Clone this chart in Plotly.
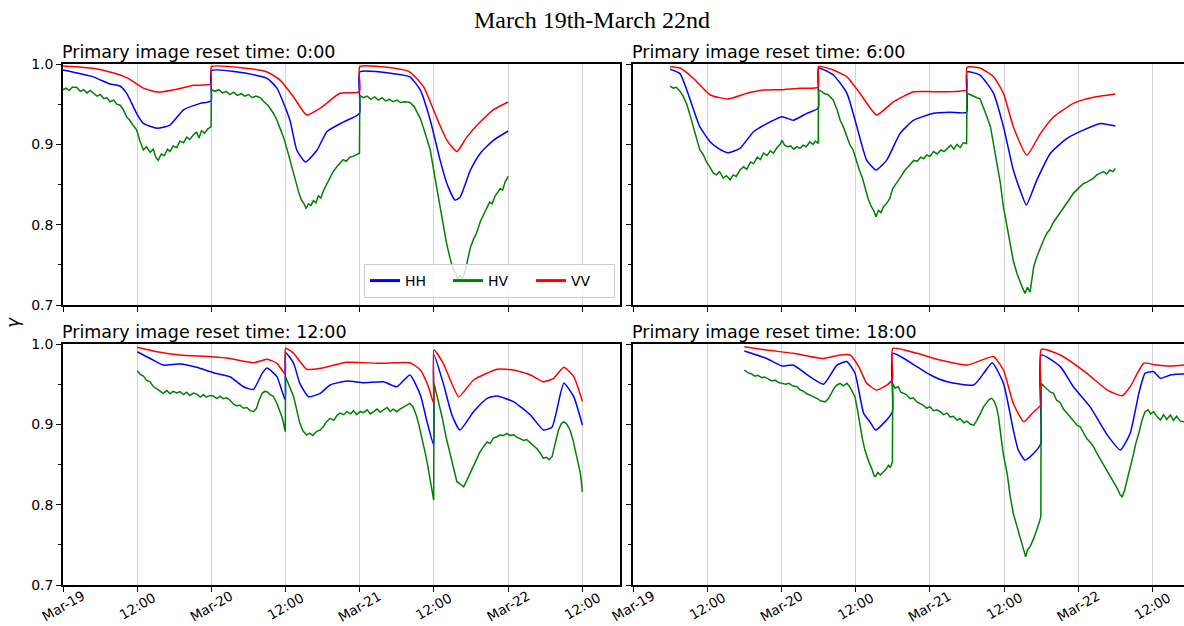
import pandas as pd
import plotly.graph_objects as go

BASE = pd.Timestamp("2019-03-19 00:00")

# ---------------- data (hours since Mar-19 00:00, gamma values) ----------------
# Panel 1: reset time 0:00
p1_hh_h = [0, 4.9, 7.6, 9.2, 10.3, 11.9, 13.0, 15.2, 17.3, 19.5, 22.2, 23.95, 24.0, 29.2, 33.0, 34.6, 36.7, 37.8, 39.2, 41.1, 42.7, 45.4, 47.95, 48.0, 53.4, 56.1, 57.8, 59.4, 61.0, 62.1, 63.4, 64.2, 65.9, 67.5, 69.6, 72]
p1_hh = [0.9925, 0.984, 0.975, 0.9726, 0.9635, 0.9386, 0.926, 0.920, 0.924, 0.943, 0.951, 0.954, 0.9917, 0.989, 0.982, 0.970, 0.930, 0.893, 0.878, 0.893, 0.916, 0.928, 0.9386, 0.990, 0.988, 0.984, 0.9676, 0.930, 0.880, 0.851, 0.8306, 0.834, 0.868, 0.889, 0.905, 0.9166]
p1_hv_h = [0, 0.5, 1.0, 1.5, 2.2, 2.8, 3.3, 3.9, 4.4, 4.9, 5.5, 6.0, 6.6, 7.1, 7.6, 8.2, 8.7, 9.2, 9.7, 10.3, 10.8, 11.3, 11.9, 12.4, 13.0, 13.5, 14.1, 14.6, 15.0, 15.4, 15.9, 16.4, 16.9, 17.3, 17.8, 18.4, 18.9, 19.5, 20.0, 20.5, 21.1, 21.6, 22.0, 22.4, 22.9, 23.4, 23.95,
           24.0, 24.6, 25.2, 25.8, 26.4, 27.0, 27.6, 28.2, 28.8, 29.4, 30.0, 30.6, 31.2, 31.9, 32.5, 33.2, 34.0, 34.6, 35.2, 35.7, 36.2, 36.7, 37.2, 37.8, 38.2, 38.6, 39.0, 39.3, 39.7, 40.1, 40.5, 40.9, 41.3, 41.7, 42.1, 42.7, 43.2, 43.7, 44.3, 44.8, 45.3, 45.8, 46.4, 46.9, 47.4, 47.95,
           48.0, 48.6, 49.2, 49.8, 50.4, 51.0, 51.6, 52.2, 52.8, 53.4, 54.0, 54.6, 55.3, 56.1, 56.8, 57.4, 57.8, 58.4, 58.9, 59.4, 59.9, 60.5, 61.0, 61.5, 62.0, 62.6, 63.1, 63.5, 63.8, 64.2, 64.6, 65.0, 65.4, 65.9, 66.4, 66.9, 67.5, 68.0, 68.5, 69.0, 69.4, 69.9, 70.3, 70.7, 71.1, 71.5, 72.0]
p1_hv = [0.968, 0.970, 0.967, 0.971, 0.971, 0.966, 0.968, 0.964, 0.967, 0.964, 0.960, 0.962, 0.957, 0.958, 0.953, 0.955, 0.950, 0.949, 0.944, 0.934, 0.930, 0.924, 0.918, 0.905, 0.893, 0.897, 0.890, 0.894, 0.884, 0.880, 0.888, 0.886, 0.894, 0.891, 0.898, 0.896, 0.904, 0.902, 0.909, 0.906, 0.912, 0.915, 0.908, 0.917, 0.914, 0.919, 0.922,
         0.968, 0.966, 0.968, 0.964, 0.966, 0.962, 0.965, 0.961, 0.963, 0.960, 0.962, 0.958, 0.960, 0.958, 0.953, 0.948, 0.939, 0.930, 0.918, 0.908, 0.895, 0.880, 0.865, 0.847, 0.838, 0.830, 0.826, 0.820, 0.826, 0.824, 0.830, 0.827, 0.836, 0.833, 0.842, 0.851, 0.858, 0.866, 0.872, 0.876, 0.881, 0.879, 0.884, 0.885, 0.887, 0.889,
         0.961, 0.958, 0.960, 0.956, 0.959, 0.955, 0.958, 0.954, 0.956, 0.953, 0.955, 0.952, 0.953, 0.952, 0.947, 0.938, 0.932, 0.918, 0.905, 0.893, 0.870, 0.843, 0.820, 0.797, 0.778, 0.758, 0.745, 0.740, 0.732, 0.737, 0.733, 0.741, 0.755, 0.772, 0.782, 0.790, 0.804, 0.812, 0.822, 0.828, 0.826, 0.836, 0.840, 0.845, 0.843, 0.853, 0.860]
p1_vv_h = [0, 4.9, 7.6, 10.3, 13.0, 15.4, 18.4, 21.1, 23.95, 24.0, 29.2, 33.0, 35.1, 37.3, 39.4, 41.6, 44.8, 47.95, 48.0, 53.4, 56.1, 58.3, 60.5, 62.1, 63.7, 65.3, 67.5, 69.6, 72]
p1_vv = [0.9975, 0.9946, 0.990, 0.983, 0.970, 0.965, 0.9685, 0.9735, 0.975, 0.9967, 0.995, 0.990, 0.980, 0.959, 0.9365, 0.945, 0.9635, 0.9655, 0.9967, 0.995, 0.990, 0.9718, 0.932, 0.905, 0.891, 0.909, 0.928, 0.943, 0.9527]

# Panel 2: reset time 6:00
p2_hh_h = [6, 7.6, 8.7, 9.8, 10.8, 12.5, 13.8, 15.4, 17.3, 19.5, 22.2, 24.1, 25.9, 28.1, 29.95, 30.0, 32.4, 34.6, 36.2, 37.8, 39.3, 41.0, 43.2, 45.4, 48.6, 51.3, 53.95, 54.0, 56.1, 58.3, 59.9, 61.5, 62.6, 63.6, 65.3, 67.5, 70.2, 72.9, 75.6, 78]
p2_hh = [0.9934, 0.988, 0.9676, 0.943, 0.922, 0.903, 0.895, 0.8896, 0.895, 0.9157, 0.928, 0.9344, 0.930, 0.9386, 0.945, 0.9946, 0.9863, 0.9635, 0.922, 0.880, 0.868, 0.880, 0.9137, 0.930, 0.9386, 0.940, 0.940, 0.990, 0.9863, 0.9635, 0.922, 0.868, 0.843, 0.8244, 0.8555, 0.889, 0.9075, 0.918, 0.926, 0.9228]
p2_hv_h = [6.0, 6.5, 7.0, 7.6, 8.1, 8.7, 9.2, 9.8, 10.3, 10.8, 11.3, 11.9, 12.4, 13.0, 13.5, 14.0, 14.6, 15.1, 15.7, 16.2, 16.7, 17.3, 17.9, 18.4, 19.0, 19.5, 20.1, 20.6, 21.1, 21.7, 22.2, 22.7, 23.3, 23.8, 24.1, 24.5, 25.0, 25.5, 26.0, 26.5, 27.0, 27.5, 28.0, 28.6, 29.1, 29.5, 29.95,
           30.0, 30.5, 31.0, 31.5, 32.0, 32.4, 33.0, 33.5, 34.0, 34.6, 35.1, 35.6, 36.1, 36.6, 37.1, 37.6, 38.0, 38.5, 38.9, 39.3, 39.7, 40.1, 40.5, 41.0, 41.5, 42.0, 42.5, 43.0, 43.5, 44.0, 44.5, 45.0, 45.4, 46.0, 46.5, 47.0, 47.5, 48.0, 48.6, 49.2, 49.8, 50.3, 50.8, 51.4, 51.9, 52.4, 52.9, 53.4, 53.95,
           54.0, 54.5, 55.0, 55.6, 56.1, 56.6, 57.2, 57.8, 58.3, 58.8, 59.4, 59.9, 60.5, 61.0, 61.5, 62.1, 62.6, 63.0, 63.4, 63.8, 64.2, 64.8, 65.3, 65.9, 66.4, 66.9, 67.4, 68.0, 68.6, 69.1, 69.6, 70.1, 70.6, 71.2, 71.7, 72.3, 72.8, 73.4, 73.9, 74.5, 75.0, 75.6, 76.1, 76.6, 77.1, 77.6, 78.0]
p2_hv = [0.9726, 0.970, 0.971, 0.966, 0.960, 0.950, 0.937, 0.920, 0.905, 0.893, 0.888, 0.878, 0.872, 0.864, 0.862, 0.866, 0.858, 0.861, 0.856, 0.862, 0.860, 0.868, 0.872, 0.869, 0.878, 0.876, 0.884, 0.881, 0.889, 0.886, 0.892, 0.889, 0.896, 0.900, 0.905, 0.899, 0.897, 0.898, 0.894, 0.897, 0.895, 0.899, 0.897, 0.903, 0.900, 0.904, 0.901,
         0.9676, 0.966, 0.963, 0.962, 0.958, 0.955, 0.943, 0.930, 0.922, 0.910, 0.899, 0.893, 0.880, 0.868, 0.858, 0.843, 0.833, 0.823, 0.818, 0.810, 0.818, 0.815, 0.822, 0.8265, 0.832, 0.845, 0.850, 0.856, 0.862, 0.868, 0.872, 0.876, 0.880, 0.879, 0.884, 0.882, 0.8867, 0.885, 0.891, 0.888, 0.893, 0.891, 0.895, 0.899, 0.894, 0.900, 0.896, 0.902, 0.901,
         0.9635, 0.962, 0.960, 0.958, 0.957, 0.948, 0.935, 0.922, 0.900, 0.880, 0.852, 0.822, 0.796, 0.7725, 0.755, 0.739, 0.728, 0.721, 0.7145, 0.722, 0.716, 0.7476, 0.760, 0.772, 0.781, 0.789, 0.794, 0.803, 0.810, 0.815, 0.822, 0.827, 0.832, 0.839, 0.843, 0.848, 0.851, 0.853, 0.8555, 0.858, 0.862, 0.864, 0.866, 0.863, 0.868, 0.866, 0.870]
p2_vv_h = [6, 7.6, 9.8, 12.5, 15.4, 18.4, 21.1, 24.3, 27.0, 29.95, 30.0, 32.4, 34.6, 36.7, 39.4, 42.1, 45.4, 48.6, 53.95, 54.0, 56.1, 58.3, 59.9, 61.5, 63.7, 65.9, 68.0, 71.2, 74.5, 78]
p2_vv = [0.9967, 0.995, 0.982, 0.9614, 0.9564, 0.9635, 0.9676, 0.968, 0.9697, 0.971, 0.9967, 0.9925, 0.984, 0.9635, 0.9365, 0.953, 0.9655, 0.9655, 0.968, 0.9958, 0.995, 0.984, 0.9635, 0.922, 0.8867, 0.9137, 0.934, 0.951, 0.9585, 0.9626]

# Panel 3: reset time 12:00
p3_hh_h = [12, 14.1, 16.2, 18.9, 21.6, 24.3, 27.0, 29.2, 30.8, 32.2, 33.0, 34.6, 35.95, 36.0, 37.3, 38.3, 39.7, 41.6, 43.2, 45.9, 48.6, 51.8, 54.0, 56.1, 57.8, 58.8, 59.95, 60.0, 61.5, 62.9, 64.2, 66.4, 68.6, 70.2, 72.9, 75.6, 77.7, 79.1, 81.0, 82.6, 84]
p3_hh = [0.9904, 0.982, 0.9738, 0.975, 0.971, 0.9643, 0.9593, 0.9468, 0.9435, 0.9635, 0.970, 0.9593, 0.930, 0.9892, 0.976, 0.951, 0.9344, 0.9386, 0.949, 0.9539, 0.9518, 0.953, 0.9468, 0.9614, 0.9365, 0.9054, 0.8742, 0.9863, 0.951, 0.9116, 0.893, 0.9157, 0.9324, 0.9352, 0.928, 0.9116, 0.893, 0.8968, 0.951, 0.9344, 0.899]
p3_hv_h = [12.0, 12.5, 13.0, 13.5, 14.1, 14.6, 15.2, 15.7, 16.2, 16.8, 17.3, 17.8, 18.4, 18.9, 19.5, 20.0, 20.5, 21.1, 21.6, 22.2, 22.7, 23.2, 23.8, 24.3, 24.9, 25.4, 25.9, 26.5, 27.0, 27.6, 28.1, 28.6, 29.2, 29.7, 30.3, 30.8, 31.3, 31.7, 32.2, 32.6, 33.0, 33.5, 34.0, 34.6, 35.0, 35.4, 35.7, 35.95,
           36.0, 36.4, 36.8, 37.3, 37.8, 38.3, 38.8, 39.4, 39.9, 40.4, 41.0, 41.6, 42.1, 42.6, 43.2, 43.8, 44.3, 44.8, 45.4, 45.9, 46.5, 47.0, 47.5, 48.1, 48.6, 49.2, 49.7, 50.2, 50.8, 51.3, 51.8, 52.4, 52.9, 53.4, 54.0, 54.5, 55.0, 55.6, 56.1, 56.6, 57.1, 57.5, 58.0, 58.6, 59.0, 59.4, 59.7, 59.95,
           60.0, 60.6, 61.3, 61.9, 62.6, 63.1, 63.7, 64.2, 64.8, 65.3, 65.8, 66.4, 66.9, 67.4, 68.0, 68.6, 69.1, 69.6, 70.2, 70.7, 71.2, 71.8, 72.3, 72.9, 73.4, 73.9, 74.5, 75.0, 75.6, 76.1, 76.6, 77.2, 77.7, 78.2, 78.6, 79.1, 79.6, 80.1, 80.6, 81.0, 81.5, 82.0, 82.5, 83.0, 83.4, 83.7, 84.0]
p3_hv = [0.9668, 0.962, 0.960, 0.955, 0.953, 0.947, 0.944, 0.941, 0.9386, 0.942, 0.938, 0.941, 0.939, 0.9406, 0.937, 0.940, 0.936, 0.939, 0.9377, 0.934, 0.937, 0.934, 0.936, 0.9352, 0.932, 0.935, 0.932, 0.933, 0.930, 0.925, 0.923, 0.924, 0.920, 0.921, 0.917, 0.9157, 0.920, 0.930, 0.9386, 0.941, 0.9406, 0.937, 0.935, 0.926, 0.918, 0.9095, 0.900, 0.8908,
         0.9593, 0.952, 0.944, 0.9344, 0.918, 0.9012, 0.892, 0.8867, 0.889, 0.886, 0.891, 0.893, 0.897, 0.903, 0.9075, 0.905, 0.911, 0.914, 0.912, 0.9157, 0.913, 0.917, 0.912, 0.916, 0.9145, 0.918, 0.913, 0.916, 0.919, 0.915, 0.9178, 0.921, 0.916, 0.919, 0.9157, 0.919, 0.921, 0.924, 0.926, 0.922, 0.912, 0.9012, 0.885, 0.8639, 0.848, 0.8306, 0.818, 0.8057,
         0.951, 0.932, 0.9095, 0.886, 0.8639, 0.845, 0.8286, 0.826, 0.8223, 0.830, 0.838, 0.8472, 0.856, 0.865, 0.872, 0.878, 0.876, 0.883, 0.8846, 0.887, 0.886, 0.8888, 0.886, 0.887, 0.884, 0.8826, 0.880, 0.881, 0.877, 0.8742, 0.870, 0.864, 0.8577, 0.859, 0.856, 0.8597, 0.875, 0.892, 0.901, 0.9032, 0.900, 0.893, 0.880, 0.862, 0.8472, 0.838, 0.816]
p3_vv_h = [12, 15.2, 18.9, 24.1, 27.0, 30.8, 33.0, 34.6, 35.95, 36.0, 37.3, 39.4, 41.6, 45.9, 51.3, 56.1, 57.8, 59.1, 59.95, 60.0, 61.5, 64.0, 66.4, 70.2, 72.9, 75.6, 77.7, 79.3, 81.0, 82.6, 84]
p3_vv = [0.9959, 0.9904, 0.9863, 0.9842, 0.982, 0.9767, 0.981, 0.976, 0.9626, 0.9946, 0.9884, 0.9685, 0.9697, 0.9772, 0.976, 0.9767, 0.9676, 0.9468, 0.926, 0.9925, 0.976, 0.9344, 0.9552, 0.9685, 0.9676, 0.9614, 0.953, 0.957, 0.971, 0.9593, 0.9286]

# Panel 4: reset time 18:00
p4_hh_h = [18, 21.6, 24.1, 25.9, 28.6, 30.8, 33.0, 34.6, 35.9, 37.3, 38.3, 39.2, 40.5, 41.95, 42.0, 45.9, 48.1, 50.8, 55.1, 56.7, 58.1, 59.9, 61.5, 62.3, 63.4, 64.8, 65.95, 66.0, 69.1, 71.2, 73.9, 76.7, 78.8, 80.4, 81.8, 82.8, 84.2, 85.3, 86.9, 89.2, 90]
p4_hh = [0.9913, 0.982, 0.9726, 0.9738, 0.9593, 0.950, 0.9738, 0.978, 0.9635, 0.9137, 0.9032, 0.893, 0.9012, 0.9157, 0.9884, 0.9718, 0.9614, 0.953, 0.949, 0.9635, 0.9767, 0.951, 0.893, 0.868, 0.8555, 0.8639, 0.8763, 0.9863, 0.9718, 0.9468, 0.922, 0.8867, 0.868, 0.8888, 0.9386, 0.9635, 0.9655, 0.9573, 0.9614, 0.9625, 0.962]
p4_hv_h = [18.0, 18.6, 19.1, 19.7, 20.2, 20.8, 21.3, 21.9, 22.4, 23.0, 23.5, 24.1, 24.7, 25.2, 25.8, 26.5, 27.0, 27.6, 28.1, 28.7, 29.2, 29.8, 30.4, 31.1, 31.6, 32.1, 32.6, 33.0, 33.5, 34.0, 34.6, 35.1, 35.5, 35.9, 36.3, 36.7, 37.1, 37.5, 37.9, 38.2, 38.6, 39.0, 39.2, 39.6, 40.0, 40.5, 40.9, 41.3, 41.6, 41.95,
           42.0, 42.4, 42.9, 43.3, 43.7, 44.2, 44.8, 45.3, 45.9, 46.4, 46.9, 47.5, 48.0, 48.6, 49.1, 49.7, 50.2, 50.8, 51.3, 51.8, 52.4, 52.9, 53.5, 54.0, 54.6, 55.1, 55.6, 56.2, 56.7, 57.2, 57.6, 58.0, 58.4, 58.8, 59.1, 59.5, 59.9, 60.5, 61.0, 61.5, 62.1, 62.6, 63.0, 63.3, 63.5, 63.8, 64.2, 64.8, 65.3, 65.7, 65.95,
           66.0, 66.5, 67.0, 67.5, 68.0, 68.5, 69.1, 69.6, 70.2, 70.7, 71.2, 71.8, 72.3, 72.9, 73.4, 73.9, 74.5, 75.0, 75.6, 76.1, 76.7, 77.2, 77.8, 78.3, 78.8, 79.1, 79.5, 80.0, 80.4, 80.9, 81.3, 81.8, 82.3, 82.8, 83.3, 83.7, 84.2, 84.7, 85.3, 85.8, 86.3, 86.9, 87.4, 87.9, 88.5, 89.2, 90.0]
p4_hv = [0.9676, 0.964, 0.963, 0.960, 0.961, 0.958, 0.959, 0.956, 0.954, 0.955, 0.952, 0.951, 0.950, 0.951, 0.948, 0.9468, 0.943, 0.941, 0.938, 0.936, 0.9344, 0.932, 0.929, 0.928, 0.932, 0.940, 0.946, 0.949, 0.951, 0.948, 0.951, 0.946, 0.940, 0.9344, 0.918, 0.897, 0.882, 0.868, 0.858, 0.852, 0.8452, 0.836, 0.8348, 0.840, 0.837, 0.841, 0.844, 0.849, 0.846, 0.8534,
         0.951, 0.945, 0.947, 0.940, 0.9386, 0.937, 0.932, 0.933, 0.928, 0.926, 0.924, 0.920, 0.922, 0.917, 0.918, 0.9157, 0.912, 0.914, 0.909, 0.910, 0.9054, 0.907, 0.902, 0.904, 0.900, 0.899, 0.905, 0.914, 0.922, 0.927, 0.931, 0.9324, 0.929, 0.921, 0.9095, 0.885, 0.862, 0.839, 0.810, 0.789, 0.772, 0.760, 0.746, 0.738, 0.735, 0.744, 0.7476, 0.758, 0.768, 0.778, 0.785,
         0.951, 0.947, 0.944, 0.940, 0.9386, 0.930, 0.927, 0.919, 0.9137, 0.909, 0.904, 0.899, 0.897, 0.888, 0.882, 0.878, 0.872, 0.864, 0.856, 0.850, 0.843, 0.836, 0.828, 0.8203, 0.812, 0.810, 0.818, 0.833, 0.8472, 0.862, 0.876, 0.8888, 0.905, 0.9157, 0.918, 0.913, 0.9157, 0.910, 0.9054, 0.912, 0.906, 0.9116, 0.905, 0.910, 0.904, 0.9032, 0.900]
p4_vv_h = [18, 21.6, 25.9, 30.8, 33.5, 35.1, 36.5, 37.8, 39.4, 41.1, 41.95, 42.0, 45.9, 49.7, 54.0, 58.3, 59.9, 61.5, 63.2, 64.8, 65.95, 66.0, 69.1, 73.4, 76.7, 79.1, 80.4, 82.6, 84.7, 86.9, 89.2, 90]
p4_vv = [0.9967, 0.9925, 0.9884, 0.982, 0.9863, 0.9863, 0.9718, 0.951, 0.9427, 0.949, 0.956, 0.9946, 0.9884, 0.980, 0.9738, 0.9842, 0.9676, 0.926, 0.9032, 0.9157, 0.924, 0.9934, 0.9863, 0.9635, 0.9427, 0.9357, 0.9468, 0.976, 0.9738, 0.9726, 0.9738, 0.9735]

tick_times = ["2019-03-19 00:00", "2019-03-19 12:00", "2019-03-20 00:00", "2019-03-20 12:00",
              "2019-03-21 00:00", "2019-03-21 12:00", "2019-03-22 00:00", "2019-03-22 12:00"]
tick_labels = ["Mar-19", "12:00", "Mar-20", "12:00", "Mar-21", "12:00", "Mar-22", "12:00"]
y_ticks = [0.7, 0.8, 0.9, 1.0]
y_labels = ["0.7", "0.8", "0.9", "1.0"]
panel_titles = ["Primary image reset time: 0:00", "Primary image reset time: 6:00",
                "Primary image reset time: 12:00", "Primary image reset time: 18:00"]
series_names = ["HH", "HV", "VV"]
series_colors = ["#0000ff", "#008000", "#ff0000"]
main_title = "March 19th-March 22nd"
y_title = "γ"

panels = [
    [(p1_hh_h, p1_hh), (p1_hv_h, p1_hv), (p1_vv_h, p1_vv)],
    [(p2_hh_h, p2_hh), (p2_hv_h, p2_hv), (p2_vv_h, p2_vv)],
    [(p3_hh_h, p3_hh), (p3_hv_h, p3_hv), (p3_vv_h, p3_vv)],
    [(p4_hh_h, p4_hh), (p4_hv_h, p4_hv), (p4_vv_h, p4_vv)],
]

# ---------------- layout geometry ----------------
W, H = 1184, 626
def px(xp):
    return xp / W
def py(yp):
    return 1 - yp / H

x_dom_left = [px(63), px(620)]
x_dom_right = [px(633), 1.0]
y_dom_top = [py(305), py(64)]
y_dom_bot = [py(585), py(344)]
x_range_left = ["2019-03-19 00:00", "2019-03-22 18:05"]
x_range_right = ["2019-03-19 00:00", "2019-03-22 17:06"]

fig = go.Figure()

axis_ids = ["", "2", "3", "4"]
for pi, series in enumerate(panels):
    aid = axis_ids[pi]
    for si, (hrs, vals) in enumerate(series):
        t = BASE + pd.to_timedelta(hrs, unit="h")
        if si == 1:
            line = dict(color=series_colors[si], width=1.5)
        else:
            line = dict(color=series_colors[si], width=1.5, shape="spline", smoothing=0.5)
        fig.add_trace(go.Scatter(
            x=t, y=vals, mode="lines", name=series_names[si], line=line,
            showlegend=False, xaxis="x" + aid, yaxis="y" + aid,
            hoverinfo="skip"))

# legend entries (thicker sample lines)
for si in range(3):
    fig.add_trace(go.Scatter(
        x=[None], y=[None], mode="lines", name=series_names[si],
        line=dict(color=series_colors[si], width=3),
        showlegend=True, xaxis="x", yaxis="y"))

tick_font = dict(family="DejaVu Sans", size=14, color="black")
xtick_font = dict(family="DejaVu Sans", size=13.5, color="black")

def xaxis(dom, anchor, rng, mirror=True):
    return dict(
        domain=dom, anchor=anchor, type="date", range=rng, automargin=False,
        tickmode="array", tickvals=tick_times, ticktext=tick_labels,
        showticklabels=False,
        ticks="outside", ticklen=5, tickwidth=1, tickcolor="black",
        showgrid=True, gridcolor="#d4d4d4", gridwidth=1,
        showline=True, linecolor="black", linewidth=1.5, mirror=mirror,
        zeroline=False)

def yaxis(dom, anchor, labels, mirror=True):
    return dict(
        domain=dom, anchor=anchor, range=[0.7, 1.0], automargin=False,
        tickmode="array", tickvals=y_ticks, ticktext=y_labels,
        showticklabels=labels, tickfont=tick_font,
        ticks="outside", ticklen=5, tickwidth=1, tickcolor="black",
        minor=dict(dtick=0.05, ticks="outside", ticklen=3, tickwidth=0.8,
                   tickcolor="black", showgrid=False),
        showgrid=False, showline=True, linecolor="black", linewidth=1.5,
        mirror=mirror, zeroline=False)

fig.update_layout(
    template="none",
    width=W, height=H, margin=dict(l=0, r=0, t=0, b=0, pad=0, autoexpand=False),
    paper_bgcolor="white", plot_bgcolor="white",
    font=dict(family="DejaVu Sans", color="black"),
    xaxis=xaxis(x_dom_left, "y", x_range_left),
    yaxis=yaxis(y_dom_top, "x", True),
    xaxis2=xaxis(x_dom_right, "y2", x_range_right),
    yaxis2=yaxis(y_dom_top, "x2", False, mirror=False),
    xaxis3=xaxis(x_dom_left, "y3", x_range_left),
    yaxis3=yaxis(y_dom_bot, "x3", True),
    xaxis4=xaxis(x_dom_right, "y4", x_range_right),
    yaxis4=yaxis(y_dom_bot, "x4", False, mirror=False),
    showlegend=True,
    legend=dict(orientation="h", x=px(615), xanchor="right", y=py(298), yanchor="bottom",
                bgcolor="rgba(255,255,255,0.8)", bordercolor="#cccccc", borderwidth=1,
                font=dict(family="DejaVu Sans", size=14, color="black"),
                entrywidth=38, itemwidth=30),
)

annotations = []
# rotated, centred x tick labels for the bottom row (matplotlib style)
for xref in ["x3", "x4"]:
    for tt, tl in zip(tick_times, tick_labels):
        annotations.append(dict(text=tl, x=tt, xref=xref, y=py(606), yref="paper",
                                xanchor="center", yanchor="middle", showarrow=False,
                                textangle=-30, font=xtick_font))
title_pos = [(x_dom_left[0], y_dom_top[1]), (x_dom_right[0], y_dom_top[1]),
             (x_dom_left[0], y_dom_bot[1]), (x_dom_right[0], y_dom_bot[1])]
for (ax, ay), txt in zip(title_pos, panel_titles):
    annotations.append(dict(text=txt, x=ax, y=ay, xref="paper", yref="paper",
                            xanchor="left", yanchor="bottom", showarrow=False,
                            xshift=-3, yshift=0,
                            font=dict(family="DejaVu Sans", size=17.5, color="black")))
annotations.append(dict(text=main_title, x=0.5, y=py(20), xref="paper", yref="paper",
                        xanchor="center", yanchor="middle", showarrow=False,
                        font=dict(family="Liberation Serif", size=24, color="black")))
annotations.append(dict(text="<i>" + y_title + "</i>", x=px(13), y=py(323), xref="paper", yref="paper",
                        xanchor="center", yanchor="middle", showarrow=False, textangle=-90,
                        font=dict(family="DejaVu Sans", size=17, color="black")))
fig.update_layout(annotations=annotations)

fig.write_html("out.html")
